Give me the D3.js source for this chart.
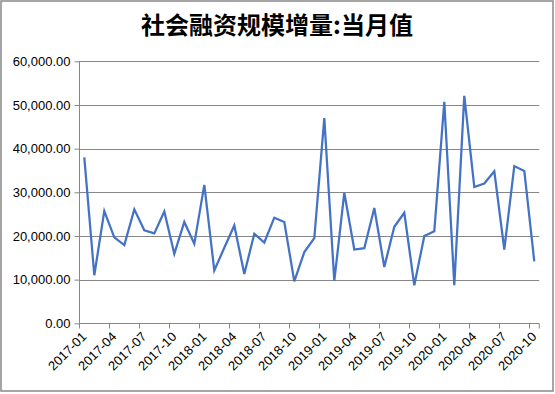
<!DOCTYPE html>
<html><head><meta charset="utf-8">
<script src="https://cdn.jsdelivr.net/npm/d3@7"></script>
<style>body{margin:0;background:#fff}svg{display:block}</style>
</head><body>
<svg id="c" width="555" height="394"></svg>
<script>
const title = "社会融资规模增量:当月值";
const months = [];
for (let yr = 2017; yr <= 2020; yr++) for (let m = 1; m <= 12; m++) {
  if (yr === 2020 && m > 10) break;
  months.push(yr + "-" + String(m).padStart(2, "0"));
}
const values = [38000, 11000, 25700, 19700, 17900, 26100, 21300, 20600, 25600, 15900, 23200, 18200,
  31700, 12100, 17300, 22400, 11300, 20500, 18500, 24200, 23200, 9600, 16300, 19500,
  47000, 9700, 29900, 16900, 17200, 26400, 12900, 22100, 25300, 8700, 20000, 21100,
  50700, 8700, 52100, 31200, 32000, 34800, 16900, 36000, 34900, 14200];
const yTicks = [0, 10000, 20000, 30000, 40000, 50000, 60000];

const svg = d3.select("#c");
svg.append("rect").attr("x", 1).attr("y", 1).attr("width", 552).attr("height", 390)
  .attr("fill", "#fff").attr("stroke", "#888").attr("stroke-width", 1.5);
svg.append("text").attr("x", 277).attr("y", 34).attr("text-anchor", "middle")
  .attr("font-family", "Noto Sans CJK SC").attr("font-weight", "bold").attr("font-size", 24)
  .attr("fill", "#000").text(title);

const pL = 79.3, pR = 539.3, pT = 61.3, pB = 323.3;
const x = d3.scaleBand().domain(months).range([pL, pR]);
const y = d3.scaleLinear().domain([0, 60000]).range([pB, pT]);
const fmt = d3.format(",.2f");

svg.append("g").selectAll("line").data(yTicks.slice(1)).join("line")
  .attr("x1", pL).attr("x2", pR)
  .attr("y1", d => Math.round(y(d)) + 0.5).attr("y2", d => Math.round(y(d)) + 0.5)
  .attr("stroke", "#878787").attr("stroke-width", 1);

const ya = svg.append("g").attr("transform", `translate(${Math.round(pL) + 0.5},0)`)
  .call(d3.axisLeft(y).tickValues(yTicks).tickFormat(fmt).tickSize(5).tickPadding(4));
ya.selectAll("path,line").attr("stroke", "#878787");
ya.select(".domain").attr("d", `M0,${pT}V${pB}`);
ya.selectAll("text").attr("font-family", "Liberation Sans, Arial").attr("font-size", 13).attr("fill", "#000");

const xa = svg.append("g").attr("transform", `translate(0,${Math.round(pB) + 0.5})`);
xa.append("line").attr("x1", pL).attr("x2", pR).attr("stroke", "#878787");
const tickMonths = months.filter((d, i) => i % 3 === 0);
xa.selectAll("line.t").data(tickMonths).join("line").attr("class", "t")
  .attr("x1", d => Math.round(x(d)) + 0.5).attr("x2", d => Math.round(x(d)) + 0.5)
  .attr("y1", 0).attr("y2", 5).attr("stroke", "#878787");
xa.append("line").attr("x1", pR).attr("x2", pR).attr("y1", 0).attr("y2", 5).attr("stroke", "#878787");
xa.selectAll("text.l").data(tickMonths).join("text").attr("class", "l")
  .attr("transform", d => `translate(${x(d) + x.bandwidth() / 2 + 3},${14}) rotate(-45)`)
  .attr("text-anchor", "end")
  .attr("font-family", "Liberation Sans, Arial").attr("font-size", 13).attr("fill", "#000")
  .text(d => d);

const line = d3.line().x((d, i) => x(months[i]) + x.bandwidth() / 2).y(d => y(d));
svg.append("path").datum(values).attr("d", line).attr("fill", "none")
  .attr("stroke", "#4472C4").attr("stroke-width", 2.25).attr("stroke-linejoin", "miter");
</script>
</body></html>
